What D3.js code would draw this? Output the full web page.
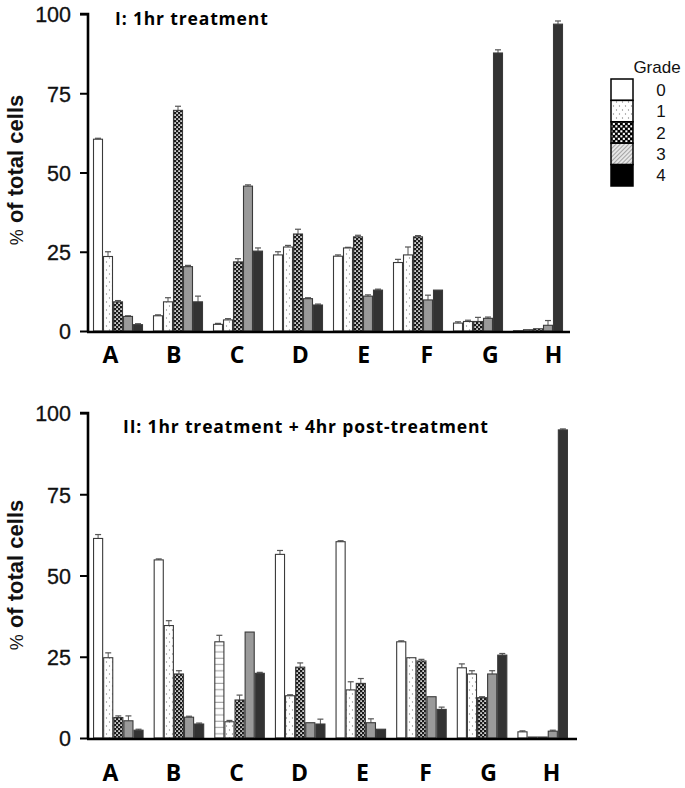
<!DOCTYPE html>
<html>
<head>
<meta charset="utf-8">
<script src="https://cdn.jsdelivr.net/npm/d3@7"></script>
<style>
  html, body { margin: 0; padding: 0; background: #fff; }
  svg { display: block; }
</style>
</head>
<body>
<svg id="chart" width="685" height="788"></svg>
<script>
// ---------- data ----------
const categories = ["A", "B", "C", "D", "E", "F", "G", "H"];
const grades = ["0", "1", "2", "3", "4"];
const yTicks = [0, 25, 50, 75, 100];

const panel1Title = "I: 1hr treatment";
// rows = categories, columns = grades 0..4
const panel1Values = [
  [60.5, 23.5, 9.2, 4.6, 2.0],
  [4.8, 9.2, 69.6, 20.3, 9.2],
  [2.1, 3.5, 21.8, 45.7, 25.2],
  [24.0, 26.5, 30.6, 10.2, 8.2],
  [23.6, 26.2, 29.7, 11.0, 12.9],
  [21.6, 24.0, 29.7, 9.8, 12.9],
  [2.5, 3.0, 3.0, 4.0, 87.7],
  [0.1, 0.4, 0.7, 1.8, 96.8]
];
const panel1Errors = [
  [0.3, 1.5, 0.4, 0.2, 0.3],
  [0.3, 1.3, 1.3, 0.4, 1.8],
  [0.3, 0.4, 1.0, 0.4, 1.0],
  [1.0, 0.5, 1.5, 0.3, 0.3],
  [0.4, 0.2, 0.5, 0.4, 0.3],
  [1.0, 2.5, 0.4, 1.5, 0.0],
  [0.4, 0.4, 1.3, 0.4, 1.0],
  [0.0, 0.0, 0.0, 1.5, 1.0]
];

const panel2Title = "II: 1hr treatment + 4hr post-treatment";
const panel2Values = [
  [61.4, 24.7, 6.3, 5.3, 2.4],
  [54.8, 34.6, 19.7, 6.4, 4.3],
  [29.6, 5.0, 11.7, 32.6, 19.9],
  [56.5, 13.0, 21.8, 4.7, 4.3],
  [60.4, 14.8, 16.8, 4.7, 2.7],
  [29.6, 24.7, 23.7, 12.7, 8.8],
  [21.6, 19.7, 12.4, 19.7, 25.5],
  [1.9, 0.3, 0.3, 2.1, 94.8]
];
const panel2Errors = [
  [1.2, 1.5, 0.5, 1.5, 0.3],
  [0.3, 1.5, 1.0, 0.3, 0.3],
  [2.0, 0.4, 1.5, 0.0, 0.3],
  [1.2, 0.3, 1.3, 0.0, 1.5],
  [0.3, 2.5, 1.5, 1.2, 0.0],
  [0.3, 0.0, 0.5, 0.0, 0.7],
  [1.2, 1.0, 0.3, 1.0, 0.5],
  [0.3, 0.0, 0.0, 0.3, 0.3]
];

const legendTitle = "Grade";
const yTitlePct = "%";
const yTitleText = "of total cells";

// ---------- layout / style ----------
const svg = d3.select("#chart");
const defs = svg.append("defs");

// dotted pattern (grade 1)
const pDot = defs.append("pattern").attr("id", "pDot").attr("patternUnits", "userSpaceOnUse")
  .attr("width", 6).attr("height", 8);
pDot.append("rect").attr("width", 6).attr("height", 8).attr("fill", "#fff");
pDot.append("circle").attr("cx", 1.5).attr("cy", 2).attr("r", 0.65).attr("fill", "#8a8a8a");
pDot.append("circle").attr("cx", 4.5).attr("cy", 6).attr("r", 0.65).attr("fill", "#8a8a8a");

// checker pattern (grade 2)
const pChk = defs.append("pattern").attr("id", "pChk").attr("patternUnits", "userSpaceOnUse")
  .attr("width", 4).attr("height", 4);
pChk.append("rect").attr("width", 4).attr("height", 4).attr("fill", "#1a1a1a");
pChk.append("rect").attr("x", 0.3).attr("y", 0.3).attr("width", 1.6).attr("height", 1.6).attr("fill", "#fff");
pChk.append("rect").attr("x", 2.3).attr("y", 2.3).attr("width", 1.6).attr("height", 1.6).attr("fill", "#fff");

// legend checker (bigger)
const pChkL = defs.append("pattern").attr("id", "pChkL").attr("patternUnits", "userSpaceOnUse")
  .attr("width", 5).attr("height", 5);
pChkL.append("rect").attr("width", 5).attr("height", 5).attr("fill", "#000");
pChkL.append("rect").attr("x", 0.3).attr("y", 0.3).attr("width", 2.1).attr("height", 2.1).attr("fill", "#fff");
pChkL.append("rect").attr("x", 2.8).attr("y", 2.8).attr("width", 2.1).attr("height", 2.1).attr("fill", "#fff");

// hatch pattern (legend grade 3)
const pHatch = defs.append("pattern").attr("id", "pHatch").attr("patternUnits", "userSpaceOnUse")
  .attr("width", 3).attr("height", 3).attr("patternTransform", "rotate(45)");
pHatch.append("rect").attr("width", 3).attr("height", 3).attr("fill", "#e6e6e6");
pHatch.append("line").attr("x1", 0).attr("y1", 0).attr("x2", 0).attr("y2", 3)
  .attr("stroke", "#777").attr("stroke-width", 1.2);

// horizontal stripes (panel II, C, grade 0)
const pStripe = defs.append("pattern").attr("id", "pStripe").attr("patternUnits", "userSpaceOnUse")
  .attr("width", 10).attr("height", 6.3);
pStripe.append("rect").attr("width", 10).attr("height", 6.3).attr("fill", "#fff");
pStripe.append("line").attr("x1", 0).attr("y1", 3).attr("x2", 10).attr("y2", 3)
  .attr("stroke", "#999").attr("stroke-width", 1);

const barFills = ["#ffffff", "url(#pDot)", "url(#pChk)", "#9a9a9a", "#333333"];
const legendFills = ["#ffffff", "url(#pDot)", "url(#pChkL)", "url(#pHatch)", "#000000"];

const panels = [
  { title: panel1Title, values: panel1Values, errors: panel1Errors,
    x0: 88, x1: 568, axisEnd: 570, yTop: 14, yBottom: 331, labelY: 363,
    labelRange: [110, 553], titleX: 115, titleY: 25, yTitleCenter: 170, special: null },
  { title: panel2Title, values: panel2Values, errors: panel2Errors,
    x0: 88, x1: 573, axisEnd: 577, yTop: 413, yBottom: 738, labelY: 781,
    labelRange: [110, 551], titleX: 123, titleY: 433, yTitleCenter: 575, special: { cat: "C", grade: 0 } }
];

panels.forEach(p => {
  const g = svg.append("g");
  const x = d3.scaleBand().domain(categories).range([p.x0, p.x1])
    .paddingInner(1 / 6).paddingOuter(1 / 12);
  const xg = d3.scaleBand().domain(grades).range([0, x.bandwidth()]);
  const y = d3.scaleLinear().domain([0, 100]).range([p.yBottom, p.yTop]);
  const xl = d3.scalePoint().domain(categories).range(p.labelRange);

  const rows = [];
  categories.forEach((c, i) => grades.forEach((gr, j) => {
    rows.push({ cat: c, grade: gr, gi: j, v: p.values[i][j], e: p.errors[i][j] });
  }));

  // error bars (only upward caps visible)
  const eb = g.append("g").selectAll("g").data(rows.filter(d => d.e > 0)).join("g");
  eb.append("line")
    .attr("x1", d => x(d.cat) + xg(d.grade) + xg.bandwidth() / 2)
    .attr("x2", d => x(d.cat) + xg(d.grade) + xg.bandwidth() / 2)
    .attr("y1", d => y(d.v)).attr("y2", d => y(d.v + d.e))
    .attr("stroke", "#555").attr("stroke-width", 1);
  eb.append("line")
    .attr("x1", d => x(d.cat) + xg(d.grade) + xg.bandwidth() / 2 - 3)
    .attr("x2", d => x(d.cat) + xg(d.grade) + xg.bandwidth() / 2 + 3)
    .attr("y1", d => y(d.v + d.e)).attr("y2", d => y(d.v + d.e))
    .attr("stroke", "#555").attr("stroke-width", 1.2);

  // bars
  g.append("g").selectAll("rect").data(rows).join("rect")
    .attr("x", d => x(d.cat) + xg(d.grade) + 0.5)
    .attr("width", xg.bandwidth() - 1)
    .attr("y", d => y(d.v))
    .attr("height", d => Math.max(0, y(0) - y(d.v)))
    .attr("fill", d => (p.special && d.cat === p.special.cat && d.gi === p.special.grade)
      ? "url(#pStripe)" : barFills[d.gi])
    .attr("stroke", "#3a3a3a").attr("stroke-width", 1.1);

  // y axis
  const yAxis = d3.axisLeft(y).tickValues(yTicks).tickSize(8).tickPadding(9);
  const ya = g.append("g").attr("transform", `translate(${p.x0},0)`).call(yAxis);
  ya.select(".domain").attr("stroke", "#000").attr("stroke-width", 2.6)
    .attr("d", `M-8,${p.yTop}H0V${p.yBottom}`);
  ya.selectAll(".tick line").attr("stroke", "#000").attr("stroke-width", 2);
  ya.selectAll(".tick text").attr("font-family", "'Liberation Sans', Arial, sans-serif")
    .attr("font-size", 21.5).attr("fill", "#111").attr("dy", "0.36em")
    .attr("stroke", "#111").attr("stroke-width", 0.3);

  // x axis baseline
  g.append("line").attr("x1", p.x0 - 1).attr("x2", p.axisEnd)
    .attr("y1", p.yBottom + 1).attr("y2", p.yBottom + 1)
    .attr("stroke", "#000").attr("stroke-width", 2.6);

  // category labels
  const xAxis = d3.axisBottom(xl).tickSize(0).tickPadding(0);
  const xa = g.append("g").attr("transform", `translate(0,${p.labelY})`).call(xAxis);
  xa.select(".domain").remove();
  xa.selectAll(".tick text").attr("font-family", "'Open Sans', sans-serif")
    .attr("font-weight", "bold").attr("font-size", 23).attr("fill", "#000")
    .attr("dy", "0").attr("y", 0);

  // y title
  const yt = g.append("text")
    .attr("transform", `translate(23,${p.yTitleCenter}) rotate(-90)`)
    .attr("text-anchor", "middle")
    .attr("font-family", "'Liberation Sans', Arial, sans-serif")
    .attr("font-size", 22).attr("fill", "#111");
  yt.append("tspan").text(yTitlePct).attr("font-weight", "normal").attr("font-size", 18);
  yt.append("tspan").text("  " + yTitleText).attr("font-weight", "bold");

  // panel title
  g.append("text").attr("x", p.titleX).attr("y", p.titleY)
    .attr("font-family", "'Open Sans', sans-serif").attr("font-weight", "bold")
    .attr("font-size", 17.5).attr("letter-spacing", 0.85)
    .attr("fill", "#000").text(p.title);
});

// ---------- legend ----------
const lg = svg.append("g");
const ly = d3.scaleBand().domain(grades).range([79, 186]);
lg.append("text").attr("x", 657).attr("y", 73).attr("text-anchor", "middle")
  .attr("font-family", "'Liberation Sans', Arial, sans-serif").attr("font-size", 17)
  .attr("fill", "#111").text(legendTitle);
lg.selectAll("rect").data(grades).join("rect")
  .attr("x", 611).attr("width", 22)
  .attr("y", d => ly(d)).attr("height", ly.bandwidth())
  .attr("fill", (d, i) => legendFills[i])
  .attr("stroke", "#000").attr("stroke-width", 1.5);
lg.selectAll("text.lab").data(grades).join("text").attr("class", "lab")
  .attr("x", 661).attr("y", d => ly(d) + ly.bandwidth() / 2)
  .attr("dy", "0.36em").attr("text-anchor", "middle")
  .attr("font-family", "'Liberation Sans', Arial, sans-serif").attr("font-size", 17)
  .attr("fill", "#111").text(d => d);
</script>
</body>
</html>
